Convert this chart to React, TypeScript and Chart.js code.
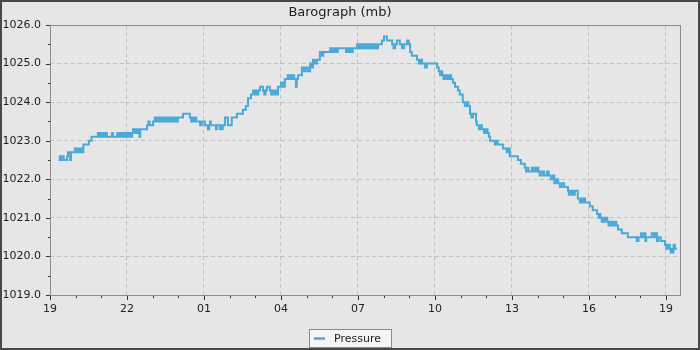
import React, { useEffect, useRef } from "react";
import { Chart, registerables } from "chart.js";

Chart.register(...registerables);

// minutes after 19:00 of the first day
const minutes = [
  20, 23, 27, 29, 32, 40, 42, 47, 49, 58,
  63, 65, 67, 69, 71, 73, 75, 78, 91, 97,
  112, 115, 118, 121, 124, 127, 130, 133, 145, 147,
  157, 160, 163, 166, 169, 172, 175, 178, 181, 184,
  187, 190, 192, 194, 199, 202, 205, 207, 209, 211,
  227, 230, 233, 241, 245, 248, 251, 254, 257, 260,
  263, 266, 269, 272, 275, 278, 281, 284, 287, 290,
  293, 296, 299, 311, 327, 330, 333, 336, 339, 342,
  351, 355, 362, 369, 372, 374, 376, 388, 390, 397,
  400, 402, 404, 409, 416, 425, 437, 451, 458, 463,
  470, 475, 478, 481, 484, 487, 491, 498, 501, 504,
  507, 514, 517, 520, 523, 526, 529, 533, 540, 545,
  549, 556, 559, 562, 565, 568, 571, 575, 577, 580,
  589, 594, 598, 603, 608, 611, 615, 619, 624, 631,
  636, 639, 655, 658, 661, 664, 667, 670, 673, 692,
  695, 698, 701, 704, 708, 718, 721, 724, 727, 730,
  733, 736, 739, 742, 745, 748, 751, 754, 757, 760,
  763, 767, 776, 781, 788, 800, 803, 807, 811, 818,
  823, 828, 835, 839, 842, 846, 858, 863, 866, 870,
  877, 881, 905, 909, 912, 914, 917, 920, 923, 926,
  929, 932, 935, 938, 942, 947, 954, 958, 965, 970,
  975, 978, 982, 985, 989, 996, 998, 1003, 1006, 1010,
  1015, 1019, 1023, 1026, 1029, 1040, 1044, 1047, 1059, 1068,
  1072, 1075, 1094, 1101, 1110, 1113, 1115, 1119, 1127, 1130,
  1133, 1136, 1139, 1142, 1145, 1150, 1155, 1162, 1166, 1171,
  1176, 1179, 1183, 1188, 1192, 1197, 1202, 1211, 1213, 1215,
  1217, 1219, 1221, 1223, 1225, 1227, 1234, 1239, 1242, 1245,
  1248, 1251, 1262, 1269, 1279, 1283, 1285, 1287, 1290, 1293,
  1296, 1299, 1303, 1306, 1309, 1312, 1315, 1318, 1321, 1324,
  1328, 1337, 1351, 1372, 1376, 1382, 1384, 1389, 1392, 1394,
  1407, 1412, 1415, 1419, 1422, 1428, 1438, 1441, 1443, 1445,
  1447, 1449, 1451, 1453, 1455, 1458, 1461, 1466,
];

const pressure = [
  1022.5, 1022.6, 1022.5, 1022.6, 1022.5, 1022.6, 1022.7, 1022.5, 1022.7, 1022.8,
  1022.7, 1022.8, 1022.7, 1022.8, 1022.7, 1022.8, 1022.7, 1022.9, 1023.0, 1023.1,
  1023.2, 1023.1, 1023.2, 1023.1, 1023.2, 1023.1, 1023.2, 1023.1, 1023.2, 1023.1,
  1023.2, 1023.1, 1023.2, 1023.1, 1023.2, 1023.1, 1023.2, 1023.1, 1023.2, 1023.1,
  1023.2, 1023.1, 1023.2, 1023.3, 1023.2, 1023.3, 1023.2, 1023.3, 1023.1, 1023.3,
  1023.4, 1023.5, 1023.4, 1023.5, 1023.6, 1023.5, 1023.6, 1023.5, 1023.6, 1023.5,
  1023.6, 1023.5, 1023.6, 1023.5, 1023.6, 1023.5, 1023.6, 1023.5, 1023.6, 1023.5,
  1023.6, 1023.5, 1023.6, 1023.7, 1023.6, 1023.5, 1023.6, 1023.5, 1023.6, 1023.5,
  1023.4, 1023.5, 1023.4, 1023.3, 1023.4, 1023.5, 1023.4, 1023.3, 1023.4, 1023.3,
  1023.4, 1023.3, 1023.4, 1023.6, 1023.4, 1023.6, 1023.7, 1023.8, 1023.9, 1024.1,
  1024.2, 1024.3, 1024.2, 1024.3, 1024.2, 1024.3, 1024.4, 1024.3, 1024.2, 1024.3,
  1024.4, 1024.3, 1024.2, 1024.3, 1024.2, 1024.3, 1024.2, 1024.4, 1024.5, 1024.4,
  1024.6, 1024.7, 1024.6, 1024.7, 1024.6, 1024.7, 1024.6, 1024.4, 1024.6, 1024.7,
  1024.9, 1024.8, 1024.9, 1024.8, 1025.0, 1024.9, 1025.1, 1025.0, 1025.1, 1025.3,
  1025.2, 1025.3, 1025.4, 1025.3, 1025.4, 1025.3, 1025.4, 1025.3, 1025.4, 1025.3,
  1025.4, 1025.3, 1025.4, 1025.3, 1025.4, 1025.5, 1025.4, 1025.5, 1025.4, 1025.5,
  1025.4, 1025.5, 1025.4, 1025.5, 1025.4, 1025.5, 1025.4, 1025.5, 1025.4, 1025.5,
  1025.4, 1025.5, 1025.6, 1025.7, 1025.6, 1025.5, 1025.4, 1025.5, 1025.6, 1025.5,
  1025.4, 1025.5, 1025.6, 1025.5, 1025.3, 1025.2, 1025.1, 1025.0, 1025.1, 1025.0,
  1024.9, 1025.0, 1024.9, 1024.8, 1024.7, 1024.8, 1024.7, 1024.6, 1024.7, 1024.6,
  1024.7, 1024.6, 1024.7, 1024.6, 1024.5, 1024.4, 1024.3, 1024.2, 1024.0, 1023.9,
  1024.0, 1023.9, 1023.7, 1023.6, 1023.7, 1023.5, 1023.4, 1023.3, 1023.4, 1023.3,
  1023.2, 1023.3, 1023.2, 1023.1, 1023.0, 1022.9, 1023.0, 1022.9, 1022.8, 1022.7,
  1022.8, 1022.6, 1022.5, 1022.4, 1022.3, 1022.2, 1022.3, 1022.2, 1022.3, 1022.2,
  1022.3, 1022.2, 1022.3, 1022.2, 1022.1, 1022.2, 1022.1, 1022.2, 1022.1, 1022.0,
  1022.1, 1021.9, 1022.0, 1021.9, 1021.8, 1021.9, 1021.8, 1021.7, 1021.6, 1021.7,
  1021.6, 1021.7, 1021.6, 1021.7, 1021.6, 1021.7, 1021.5, 1021.4, 1021.5, 1021.4,
  1021.5, 1021.4, 1021.3, 1021.2, 1021.1, 1021.0, 1021.1, 1021.0, 1020.9, 1021.0,
  1020.9, 1021.0, 1020.9, 1020.8, 1020.9, 1020.8, 1020.9, 1020.8, 1020.9, 1020.8,
  1020.7, 1020.6, 1020.5, 1020.4, 1020.5, 1020.6, 1020.5, 1020.6, 1020.4, 1020.5,
  1020.6, 1020.5, 1020.6, 1020.4, 1020.5, 1020.4, 1020.3, 1020.2, 1020.3, 1020.2,
  1020.3, 1020.2, 1020.1, 1020.2, 1020.1, 1020.3, 1020.2, 1020.2,
];

const xTickLabels = ["19", "22", "01", "04", "07", "10", "13", "16", "19"];
const xMaxMinutes = 1473;
const yMin = 1019;
const yMax = 1026;

const TITLE = "Barograph (mb)";
const SERIES = "Pressure";
const LINE = "rgb(74,169,216)";
const BG = "#e6e6e6";
const GRID = "#c0c0c0";
const FRAME = "#8c8c8c";
const TEXT = "#222222";
const FONT = "'DejaVu Sans', sans-serif";

const decorPlugin = {
  id: "decor",
  beforeDraw(chart: any) {
    const { ctx, width, height } = chart;
    ctx.save();
    ctx.fillStyle = BG;
    ctx.fillRect(0, 0, width, height);
    ctx.restore();
  },
  afterDraw(chart: any) {
    const { ctx, width, height, chartArea } = chart;
    const { left, top, right, bottom } = chartArea;
    ctx.save();
    // plot frame
    ctx.strokeStyle = FRAME;
    ctx.lineWidth = 1;
    ctx.strokeRect(left + 0.5, top + 0.5, right - left, bottom - top);
    // tick marks
    ctx.strokeStyle = "#333";
    ctx.beginPath();
    const xs = chart.scales.x;
    xs.ticks.forEach((t: any) => {
      const px = Math.round(xs.getPixelForValue(t.value)) + 0.5;
      const len = t.value % 180 === 0 ? 4 : 2;
      ctx.moveTo(px, bottom + 1);
      ctx.lineTo(px, bottom + 1 + len);
    });
    const ys = chart.scales.y;
    ys.ticks.forEach((t: any) => {
      const py = Math.round(ys.getPixelForValue(t.value)) + 0.5;
      const len = Number.isInteger(t.value) ? 4 : 2;
      ctx.moveTo(left, py);
      ctx.lineTo(left - len, py);
    });
    ctx.stroke();

    // legend box
    ctx.font = `11px ${FONT}`;
    const tw = ctx.measureText(SERIES).width;
    const boxW = Math.round(5 + 11 + 9 + tw + 10);
    const boxH = 18;
    const bx = Math.round(width / 2 - boxW / 2);
    const by = bottom + 34;
    ctx.fillStyle = "#f5f5f5";
    ctx.fillRect(bx, by, boxW, boxH);
    ctx.strokeStyle = "#8a8a8a";
    ctx.strokeRect(bx + 0.5, by + 0.5, boxW, boxH);
    ctx.strokeStyle = LINE;
    ctx.lineWidth = 2.5;
    ctx.beginPath();
    ctx.moveTo(bx + 5, by + 9.5);
    ctx.lineTo(bx + 16, by + 9.5);
    ctx.stroke();
    ctx.fillStyle = TEXT;
    ctx.textBaseline = "middle";
    ctx.textAlign = "left";
    ctx.fillText(SERIES, bx + 25, by + 10);

    // outer border
    ctx.strokeStyle = "#484848";
    ctx.lineWidth = 2;
    ctx.strokeRect(1, 1, width - 2, height - 2);
    ctx.restore();
  },
};

export default function App() {
  const ref = useRef<HTMLCanvasElement>(null);
  useEffect(() => {
    document.body.style.margin = "0";
    const data = minutes.map((m, i) => ({ x: m, y: pressure[i] }));
    const chart = new Chart(ref.current!, {
      type: "line",
      data: {
        datasets: [
          {
            label: SERIES,
            data,
            borderColor: LINE,
            backgroundColor: LINE,
            borderWidth: 2,
            pointRadius: 0,
            stepped: true,
            fill: false,
          },
        ],
      },
      options: {
        animation: false,
        responsive: false,
        events: [],
        layout: { padding: { left: 0, right: 20, top: 0, bottom: 0 } },
        plugins: {
          legend: { display: false },
          tooltip: { enabled: false },
          title: {
            display: true,
            text: TITLE,
            color: TEXT,
            font: { family: FONT, size: 13, weight: "normal" },
            padding: { top: 4.5, bottom: 4.9 },
          },
        },
        scales: {
          x: {
            type: "linear",
            min: 0,
            max: xMaxMinutes,
            afterFit: (s: any) => {
              s.height = 55;
            },
            border: { display: false, dash: [4, 3] },
            grid: {
              drawTicks: false,
              color: (c: any) =>
                c.tick && c.tick.value % 180 === 0 && c.tick.value !== 0 ? GRID : "transparent",
              lineWidth: 1,
            },
            ticks: {
              stepSize: 60,
              includeBounds: false,
              autoSkip: false,
              maxRotation: 0,
              padding: 7.5,
              color: TEXT,
              font: { family: FONT, size: 11 },
              callback: (v: any) => {
                const n = Number(v);
                return n % 180 === 0 ? xTickLabels[n / 180] : "";
              },
            },
          },
          y: {
            type: "linear",
            min: yMin,
            max: yMax,
            afterFit: (s: any) => {
              s.width = 50;
            },
            border: { display: false, dash: [4, 3] },
            grid: {
              drawTicks: false,
              color: (c: any) =>
                c.tick && Number.isInteger(c.tick.value) && c.tick.value !== yMin && c.tick.value !== yMax
                  ? GRID
                  : "transparent",
              lineWidth: 1,
            },
            ticks: {
              stepSize: 0.5,
              autoSkip: false,
              padding: 9,
              color: TEXT,
              font: { family: FONT, size: 11 },
              callback: (v: any) => (Number.isInteger(Number(v)) ? Number(v).toFixed(1) : ""),
            },
          },
        },
      },
      plugins: [decorPlugin],
    });
    return () => chart.destroy();
  }, []);
  return (
    <div style={{ position: "fixed", left: 0, top: 0, width: 700, height: 350 }}>
      <canvas ref={ref} width={700} height={350} style={{ display: "block" }} />
    </div>
  );
}
